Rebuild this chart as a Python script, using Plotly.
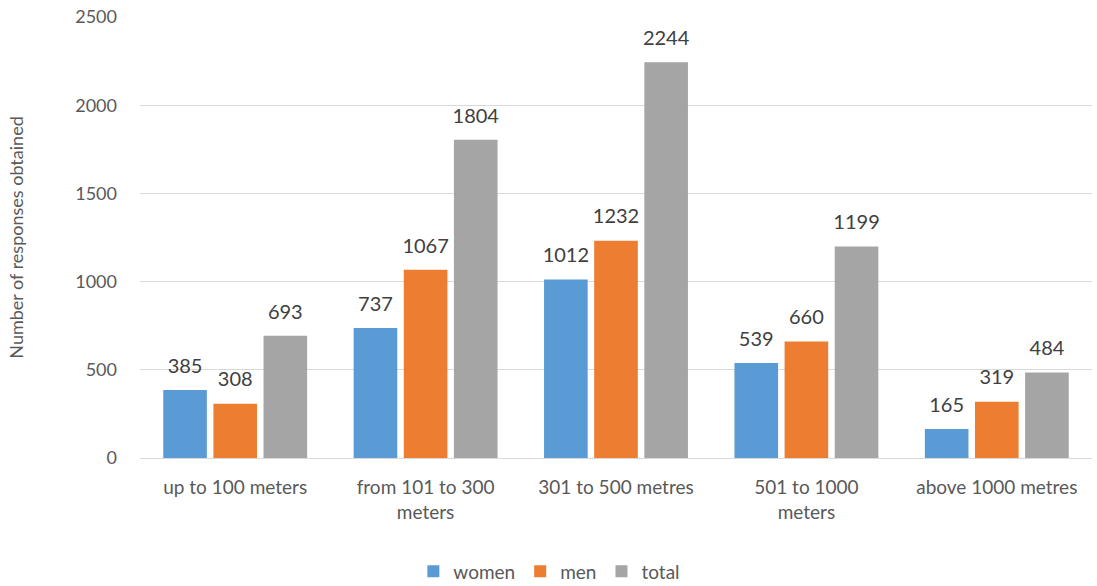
import plotly.graph_objects as go

categories = ["up to 100 meters", "from 101 to 300<br>meters", "301 to 500 metres",
              "501 to 1000<br>meters", "above 1000 metres"]
women = [385, 737, 1012, 539, 165]
men = [308, 1067, 1232, 660, 319]
total = [693, 1804, 2244, 1199, 484]

series = [("women", women, "#5b9bd5"), ("men", men, "#ed7d31"), ("total", total, "#a5a5a5")]
FONT = "Lato"

fig = go.Figure()
for name, vals, col in series:
    fig.add_trace(go.Bar(
        name=name, x=categories, y=vals, marker=dict(color=col, line=dict(width=0)),
        offsetgroup=name,
    ))
for name, vals, col in series:
    fig.add_trace(go.Scatter(
        name=name, x=categories, y=vals, mode="text+markers", offsetgroup=name,
        marker=dict(size=18, opacity=0),
        text=[str(v) for v in vals], textposition="top center",
        textfont=dict(size=20, color="#404040", family=FONT),
        showlegend=False, hoverinfo="skip", cliponaxis=False,
    ))

fig.update_layout(
    width=1097, height=586,
    margin=dict(l=140, r=5, t=17, b=128, autoexpand=False),
    paper_bgcolor="white", plot_bgcolor="white",
    barmode="group", bargap=0.21, bargroupgap=0.13,
    scattermode="group", scattergap=0.21,
    font=dict(family=FONT, color="#595959", size=18),
    legend=dict(orientation="h", x=0.43, xanchor="center", y=-0.257, yanchor="middle",
                font=dict(size=19, color="#595959"), itemwidth=30, traceorder="normal"),
    yaxis=dict(range=[0, 2500], dtick=500, gridcolor="#d9d9d9", gridwidth=1,
               showline=False, zeroline=True, zerolinecolor="#d9d9d9", zerolinewidth=1,
               tickfont=dict(size=18, color="#595959"), ticks="", ticklabelstandoff=22,
               automargin=False,
               title=dict(text="Number of responses obtained", font=dict(size=18, color="#595959"),
                          standoff=46)),
    xaxis=dict(showline=True, linecolor="#d9d9d9", linewidth=1, automargin=False,
               tickfont=dict(size=19, color="#595959"), ticks="", ticklabelstandoff=12),
)

fig.write_html("out.html")
